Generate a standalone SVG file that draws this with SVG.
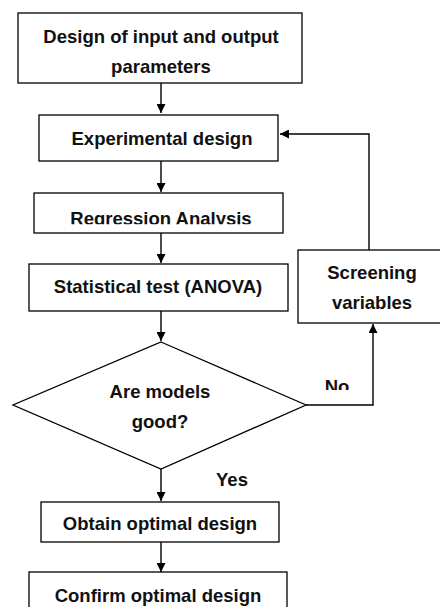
<svg xmlns="http://www.w3.org/2000/svg" width="440" height="607" viewBox="0 0 440 607">
<style>
.box{fill:#fff;stroke:#000;stroke-width:1.3}
.t{font-family:"Liberation Sans",Arial,sans-serif;font-weight:bold;font-size:18.5px;fill:#111;text-anchor:middle}
.c{fill:none;stroke:#000;stroke-width:1.4}
</style>
<defs>
<marker id="ah" viewBox="0 0 10 10" refX="10" refY="5" markerWidth="9" markerHeight="9" markerUnits="userSpaceOnUse" orient="auto">
<path d="M0,0 L10,5 L0,10 Z" fill="#000"/>
</marker>
<clipPath id="clipReg"><rect x="0" y="190" width="440" height="34.3"/></clipPath>
<clipPath id="clipNo"><rect x="300" y="360" width="100" height="30"/></clipPath>
</defs>
<rect width="440" height="607" fill="#fff"/>
<g id="connectors">
<line class="c" x1="161" y1="83" x2="161" y2="113" marker-end="url(#ah)"/>
<line class="c" x1="161" y1="161" x2="161" y2="192" marker-end="url(#ah)"/>
<line class="c" x1="161" y1="233" x2="161" y2="263" marker-end="url(#ah)"/>
<line class="c" x1="161" y1="311" x2="161" y2="341" marker-end="url(#ah)"/>
<line class="c" x1="161" y1="469" x2="161" y2="501" marker-end="url(#ah)"/>
<line class="c" x1="161" y1="542" x2="161" y2="572" marker-end="url(#ah)"/>
<polyline class="c" points="306,405 373,405 373,324" marker-end="url(#ah)"/>
<polyline class="c" points="369,250 369,134 280,134" marker-end="url(#ah)"/>
<text class="t" x="337" y="393" clip-path="url(#clipNo)">No</text>
<text class="t" x="232" y="486">Yes</text>
</g>
<g id="n1">
<rect class="box" x="18" y="13" width="284" height="70"/>
<text class="t" x="161" y="43">Design of input and output</text>
<text class="t" x="161" y="73">parameters</text>
</g>
<g id="n2">
<rect class="box" x="39" y="115" width="239" height="46"/>
<text class="t" x="162" y="145">Experimental design</text>
</g>
<g id="n3">
<rect class="box" x="34" y="193" width="249" height="40"/>
<text class="t" x="161" y="225" clip-path="url(#clipReg)">Regression Analysis</text>
</g>
<g id="n4">
<rect class="box" x="29" y="264" width="259" height="47"/>
<text class="t" x="158" y="293">Statistical test (ANOVA)</text>
</g>
<g id="n5">
<polygon class="box" points="161,342 306,405 161,469 13,405"/>
<text class="t" x="160" y="398">Are models</text>
<text class="t" x="160" y="428">good?</text>
</g>
<g id="n6">
<rect class="box" x="298" y="250" width="145" height="73"/>
<text class="t" x="372" y="279">Screening</text>
<text class="t" x="372" y="309">variables</text>
</g>
<g id="n7">
<rect class="box" x="41" y="502" width="238" height="40"/>
<text class="t" x="160" y="530">Obtain optimal design</text>
</g>
<g id="n8">
<rect class="box" x="29" y="572" width="258" height="40"/>
<text class="t" x="158" y="602">Confirm optimal design</text>
</g>
</svg>
